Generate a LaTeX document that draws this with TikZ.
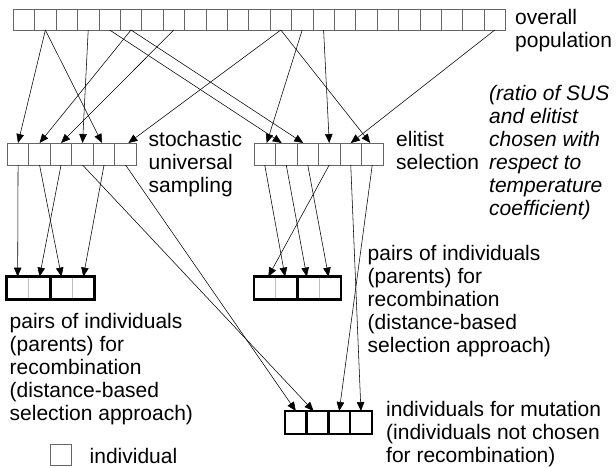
\documentclass[tikz,border=0pt]{standalone}
\usepackage{fontspec}
\setmainfont{Liberation Sans}
\usetikzlibrary{arrows.meta}
\begin{document}
\begin{tikzpicture}[x=1pt,y=-1pt,
  cell/.style={draw=black!60, line width=0.7pt, minimum width=21.4pt,
    minimum height=21pt, inner sep=0pt, outer sep=0pt},
  paircell/.style={draw=black!25, line width=0.6pt, minimum width=21.9pt,
    minimum height=22.8pt, inner sep=0pt, outer sep=0pt},
  mutcell/.style={draw=black, line width=2.6pt, minimum width=21.7pt,
    minimum height=23pt, inner sep=0pt, outer sep=0pt},
  pairbox/.style={draw=black, line width=2.6pt},
  link/.style={line width=0.55pt, -{Triangle[length=9pt,width=7.5pt]}},
  caption/.style={align=left, anchor=north west, inner sep=0pt,
    font=\fontsize{21}{23}\selectfont}
]
\useasboundingbox (0,0) rectangle (616,468);

% overall population: 23 individuals
\foreach \k in {0,...,22}
  \node[cell] (t\k) at ({24.0+21.4*\k},19.5) {};

% stochastic universal sampling and elitist selection
\foreach \k in {0,...,5} {
  \node[cell, minimum width=21.5pt, minimum height=22pt] (s\k) at ({18.05+21.5*\k},154) {};
  \node[cell, minimum width=21.5pt, minimum height=22pt] (e\k) at ({264.75+21.5*\k},154) {};
}

% pairs of parents for recombination
\foreach \k in {0,...,3} {
  \node[paircell] (pl\k) at ({17.65+21.9*\k},288) {};
  \node[paircell, minimum width=21.75pt] (pr\k) at ({264.9+21.75*\k},288) {};
}
\draw[pairbox] (pl0.north west) rectangle (pl1.south east);
\draw[pairbox] (pl2.north west) rectangle (pl3.south east);
\draw[pairbox] (pr0.north west) rectangle (pr1.south east);
\draw[pairbox] (pr2.north west) rectangle (pr3.south east);

% individuals for mutation
\foreach \k in {0,...,3}
  \node[mutcell] (m\k) at ({295.85+21.7*\k},422.5) {};

% legend
\node[cell, minimum width=21.7pt, minimum height=21.7pt] (leg) at (60.8,454.8) {};

% selection from the overall population
\draw[link] (t1.south) -- (s0.north);
\draw[link] (t5.south) -- (s1.north);
\draw[link] (t7.south) -- (s2.north);
\draw[link] (t3.south) -- (s3.north);
\draw[link] (t1.south) -- ([xshift=-2pt]s4.north);
\draw[link] (t12.south) -- ([xshift=2.8pt]s5.north);
\draw[link] (t13.south) -- ([xshift=2pt]e0.north);
\draw[link] (t4.south) -- ([xshift=-4.5pt]e1.north);
\draw[link] (t5.south) -- ([xshift=-4.5pt]e2.north);
\draw[link] (t14.south) -- (e3.north);
\draw[link] (t22.south) -- (e4.north);
\draw[link] (t12.south) -- ([xshift=-2pt]e5.north);

% parents for recombination
\draw[link] (s0.south) -- (pl0.north);
\draw[link] (s2.south) -- (pl1.north);
\draw[link] (s1.south) -- (pl2.north);
\draw[link] (s4.south) -- (pl3.north);
\draw[link] (e3.south) -- ([xshift=3.4pt]pr0.north);
\draw[link] (e0.south) -- ([xshift=-1.6pt]pr1.north);
\draw[link] (e1.south) -- ([xshift=-1.6pt]pr2.north);
\draw[link] (e2.south) -- ([xshift=-1.6pt]pr3.north);

% individuals left for mutation
\draw[link] (s5.south) -- (m0.north);
\draw[link] (s3.south) -- ([xshift=-4pt]m1.north);
\draw[link] (e5.south) -- (m2.north);
\draw[link] (e4.south) -- (m3.north);

% captions
\node[caption] (cpop) at (515,8.8) {overall\\population};
\node[caption, font=\fontsize{21}{23}\selectfont\itshape] (cratio) at (489,84.8)
  {(ratio of SUS\\and elitist\\chosen with\\respect to\\temperature\\coefficient)};
\node[caption] (csus) at (148.5,130.8) {stochastic\\universal\\sampling};
\node[caption] (celit) at (396,130.8) {elitist\\selection};
\node[caption] (cpr) at (367.5,244.8)
  {pairs of individuals\\(parents) for\\recombination\\(distance-based\\selection approach)};
\node[caption] (cpl) at (9.5,312.8)
  {pairs of individuals\\(parents) for\\recombination\\(distance-based\\selection approach)};
\node[caption] (cmut) at (386,400.8)
  {individuals for mutation\\(individuals not chosen\\for recombination)};
\node[caption] (cleg) at (89.5,447.8) {individual};
\end{tikzpicture}
\end{document}
